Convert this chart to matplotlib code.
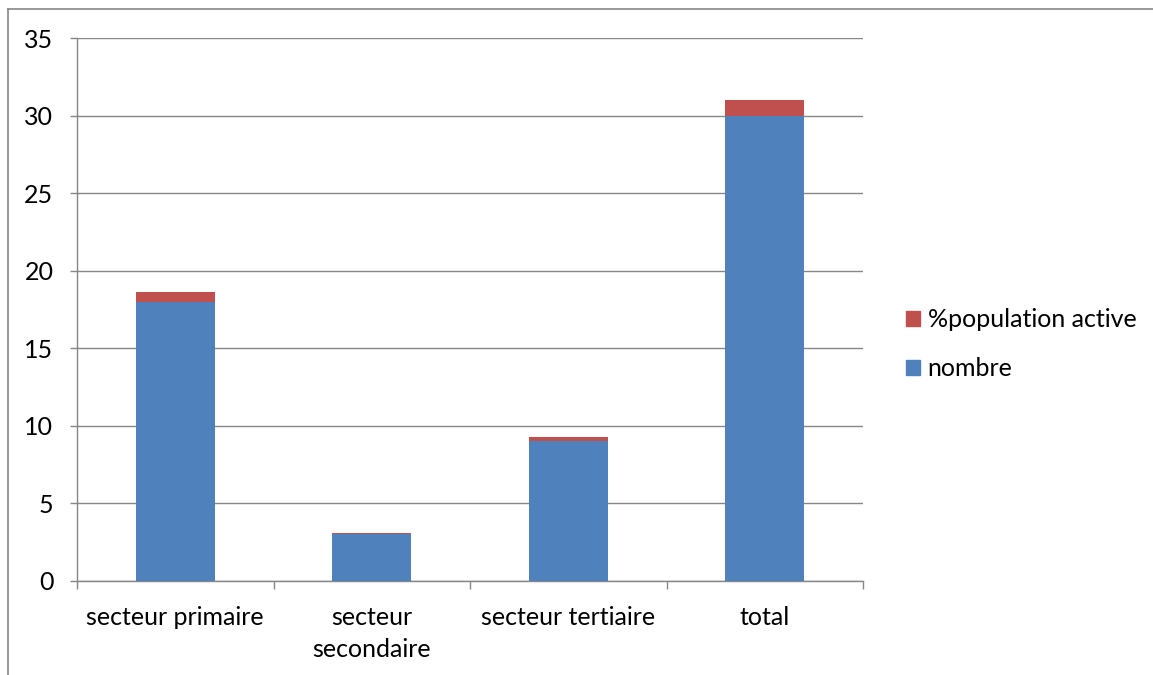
import matplotlib
matplotlib.use("Agg")
import matplotlib.pyplot as plt
from matplotlib.lines import Line2D
from matplotlib.patches import Patch

plt.rcParams['font.family'] = ['Lato', 'DejaVu Sans']

# Data
categories = ["secteur primaire", "secteur\nsecondaire", "secteur tertiaire", "total"]
nombre = [18, 3, 9, 30]
pct_active = [0.6, 0.1, 0.3, 1.0]

blue = "#4F81BD"
red = "#C0504D"
grey = "#868686"
fsize = 18

fig = plt.figure(figsize=(11.53, 6.75), dpi=100)
ax = fig.add_axes([0.0668, 0.1393, 0.6817, 0.8044])

x = list(range(len(categories)))
ax.bar(x, nombre, width=0.4, color=blue, zorder=3)
ax.bar(x, pct_active, width=0.4, bottom=nombre, color=red, zorder=3)

ax.set_xlim(-0.5, len(categories) - 0.5)
ax.set_ylim(0, 35)
ax.set_yticks(range(0, 36, 5))
ax.yaxis.grid(True, color=grey, linewidth=1, zorder=0)
ax.tick_params(axis='y', length=5, width=1, color=grey, labelsize=fsize, pad=12)

# boundaries as major ticks, labels on minor ticks
ax.set_xticks([i - 0.5 for i in range(len(categories) + 1)])
ax.set_xticklabels([])
ax.set_xticks(x, minor=True)
ax.set_xticklabels(categories, minor=True, fontsize=fsize, linespacing=1.45)
ax.tick_params(axis='x', which='major', length=6, width=1, color=grey)
ax.tick_params(axis='x', which='minor', length=0, pad=18)

for s in ['top', 'right']:
    ax.spines[s].set_visible(False)
for s in ['left', 'bottom']:
    ax.spines[s].set_color(grey)
    ax.spines[s].set_linewidth(1)

handles = [Patch(color=red), Patch(color=blue)]
fig.legend(handles, ["%population active", "nombre"], loc='center left',
           bbox_to_anchor=(0.786, 0.49), frameon=False, fontsize=fsize,
           handlelength=0.55, handleheight=0.55, handletextpad=0.3,
           labelspacing=1.05, borderpad=0, borderaxespad=0)

# outer chart border (top and left only visible)
fig.add_artist(Line2D([8 / 1153, 1.0], [1 - 9 / 675, 1 - 9 / 675], color=grey, linewidth=1.2))
fig.add_artist(Line2D([8 / 1153, 8 / 1153], [1 - 9 / 675, 0.0], color=grey, linewidth=1.2))

fig.savefig("out.png", dpi=100)
